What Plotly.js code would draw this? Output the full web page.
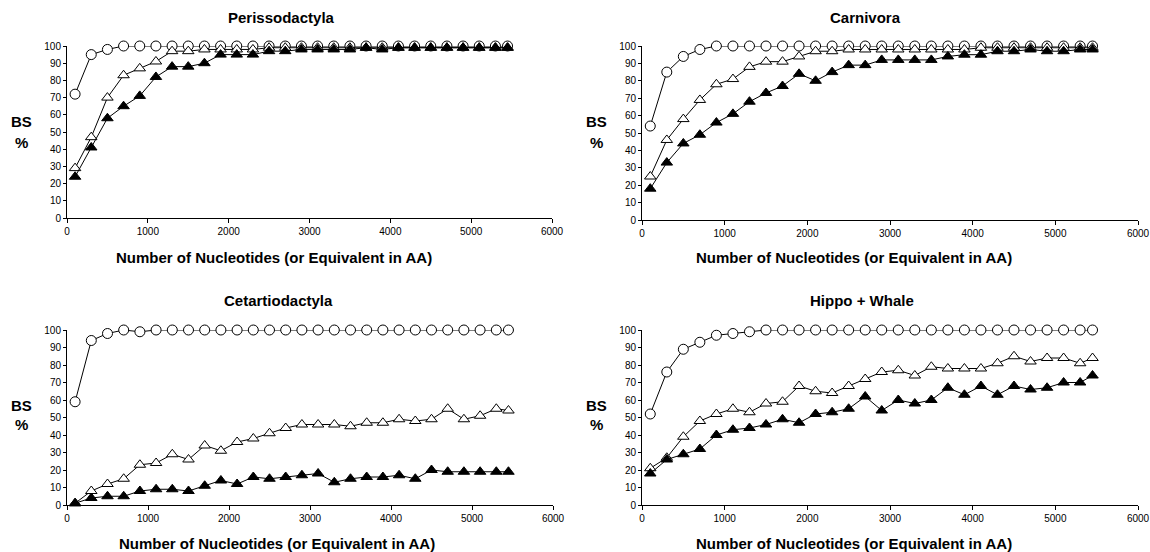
<!DOCTYPE html>
<html>
<head>
<meta charset="utf-8">
<script src="https://cdn.plot.ly/plotly-3.0.1.min.js"></script>
<style>html,body{margin:0;padding:0;background:#fff}#chart{width:1150px;height:552px}</style>
</head>
<body>
<div id="chart"></div>
<script>
const xVals = [100,300,500,700,900,1100,1300,1500,1700,1900,2100,2300,2500,2700,2900,3100,3300,3500,3700,3900,4100,4300,4500,4700,4900,5100,5300,5450];
const panelTitles = ["Perissodactyla","Carnivora","Cetartiodactyla","Hippo + Whale"];
const xTickVals = [0,1000,2000,3000,4000,5000,6000];
const yTickVals = [0,10,20,30,40,50,60,70,80,90,100];

// Perissodactyla
const periCircle = [72,95,98,100,100,100,100,100,100,100,100,100,100,100,100,100,100,100,100,100,100,100,100,100,100,100,100,100];
const periOpen   = [29,47,70,83,87,91,97,97,98,98,98,98,99,99,99,99,99,99,99,99,99,99,99,99,99,99,99,99];
const periFilled = [24,41,58,65,71,82,88,88,90,95,95,95,97,97,98,98,98,98,99,98,99,99,99,99,99,99,99,99];
// Carnivora
const carnCircle = [54,85,94,98,100,100,100,100,100,100,100,100,100,100,100,100,100,100,100,100,100,100,100,100,100,100,100,100];
const carnOpen   = [25,46,58,69,78,81,88,91,91,94,97,97,98,98,98,98,98,98,98,98,99,99,99,99,99,99,99,99];
const carnFilled = [18,33,44,49,56,61,68,73,77,84,80,85,89,89,92,92,92,92,94,95,95,97,97,98,97,97,98,98];
// Cetartiodactyla
const cetaCircle = [59,94,98,100,99,100,100,100,100,100,100,100,100,100,100,100,100,100,100,100,100,100,100,100,100,100,100,100];
const cetaOpen   = [1,8,12,15,23,24,29,26,34,31,36,38,41,44,46,46,46,45,47,47,49,48,49,55,49,51,55,54];
const cetaFilled = [1,4,5,5,8,9,9,8,11,14,12,16,15,16,17,18,13,15,16,16,17,15,20,19,19,19,19,19];
// Hippo + Whale
const hipCircle = [52,76,89,93,97,98,99,100,100,100,100,100,100,100,100,100,100,100,100,100,100,100,100,100,100,100,100,100];
const hipOpen   = [21,27,39,48,52,55,53,58,59,68,65,64,68,72,76,77,74,79,78,78,78,81,85,82,84,84,81,84];
const hipFilled = [18,26,29,32,40,43,44,46,49,47,52,53,55,62,54,60,58,60,67,63,68,63,68,66,67,70,70,74];

const panelData = [
  [periCircle, periOpen, periFilled],
  [carnCircle, carnOpen, carnFilled],
  [cetaCircle, cetaOpen, cetaFilled],
  [hipCircle, hipOpen, hipFilled]
];

const W = 1150, H = 552;
// pixel boxes [left, right, top, bottom]
const boxes = [
  [67, 552, 46, 218],
  [642, 1138, 46, 220],
  [67, 553, 330, 505],
  [642, 1138, 330, 505]
];
// label positions in pixels
const titlePos = [[281, 17], [865, 17], [278, 300], [862, 300]];
const xTitlePos = [[274, 257], [854, 257], [277, 543], [854, 543]];
const bsX = [21, 596];

const traces = [];
const FONT = 'Liberation Sans, Arial, sans-serif';
const layout = {
  width: W, height: H,
  margin: {l:0, r:0, t:0, b:0},
  paper_bgcolor: '#fff', plot_bgcolor: '#fff',
  showlegend: false,
  font: {family: FONT, color: '#000'},
  annotations: []
};

const styles = [
  {symbol: 'circle', size: 10, color: '#fff'},
  {symbol: 'triangle-up', size: 10, color: '#fff'},
  {symbol: 'triangle-up', size: 10, color: '#000'}
];

boxes.forEach((b, i) => {
  const xa = i === 0 ? 'x' : 'x' + (i + 1);
  const ya = i === 0 ? 'y' : 'y' + (i + 1);
  const xKey = i === 0 ? 'xaxis' : 'xaxis' + (i + 1);
  const yKey = i === 0 ? 'yaxis' : 'yaxis' + (i + 1);
  panelData[i].forEach((ys, k) => {
    traces.push({
      x: xVals, y: ys, xaxis: xa, yaxis: ya,
      type: 'scatter', mode: 'lines+markers', cliponaxis: false,
      line: {color: '#000', width: 1},
      marker: {symbol: styles[k].symbol, size: styles[k].size, color: styles[k].color,
               line: {color: '#000', width: 1}}
    });
  });
  layout[xKey] = {
    domain: [b[0] / W, b[1] / W], anchor: ya,
    range: [0, 6000], tickvals: xTickVals, ticktext: xTickVals.map(String),
    showgrid: false, zeroline: false, showline: true, linecolor: '#000', linewidth: 1,
    ticks: 'outside', ticklen: 4, tickcolor: '#000',
    tickfont: {size: 10, family: FONT, color: '#000'},
    fixedrange: true
  };
  layout[yKey] = {
    domain: [1 - b[3] / H, 1 - b[2] / H], anchor: xa,
    range: [0, 100], tickvals: yTickVals, ticktext: yTickVals.map(String),
    showgrid: false, zeroline: false, showline: true, linecolor: '#000', linewidth: 1,
    ticks: 'outside', ticklen: 3, tickcolor: '#000',
    tickfont: {size: 10, family: FONT, color: '#000'},
    fixedrange: true
  };
  const top = i < 2;
  layout.annotations.push({
    xref: 'paper', yref: 'paper', x: titlePos[i][0] / W, y: 1 - titlePos[i][1] / H,
    text: '<b>' + panelTitles[i] + '</b>', showarrow: false, xanchor: 'center', yanchor: 'middle',
    font: {size: 15, family: FONT, color: '#000'}
  });
  layout.annotations.push({
    xref: 'paper', yref: 'paper', x: xTitlePos[i][0] / W, y: 1 - xTitlePos[i][1] / H,
    text: '<b>Number of Nucleotides (or Equivalent in AA)</b>', showarrow: false, xanchor: 'center', yanchor: 'middle',
    font: {size: 15, family: FONT, color: '#000'}
  });
  const lx = bsX[i % 2] / W;
  layout.annotations.push({
    xref: 'paper', yref: 'paper', x: lx, y: 1 - (top ? 122 : 405) / H,
    text: '<b>BS</b>', showarrow: false, xanchor: 'center', yanchor: 'middle',
    font: {size: 15, family: FONT, color: '#000'}
  });
  layout.annotations.push({
    xref: 'paper', yref: 'paper', x: lx, y: 1 - (top ? 142 : 424) / H,
    text: '<b>%</b>', showarrow: false, xanchor: 'center', yanchor: 'middle',
    font: {size: 15, family: FONT, color: '#000'}
  });
});

Plotly.newPlot('chart', traces, layout, {displayModeBar: false, staticPlot: true});
</script>
</body>
</html>
